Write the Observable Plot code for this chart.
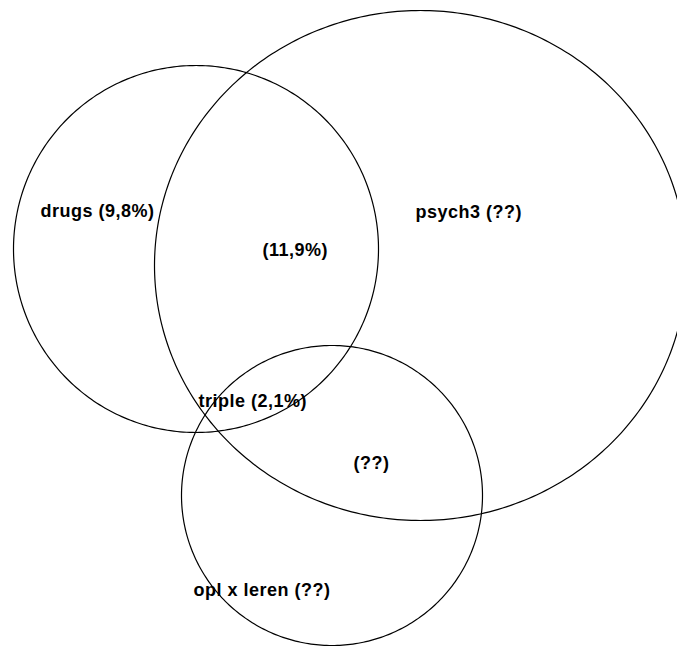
<!DOCTYPE html>
<html>
<head>
<meta charset="utf-8">
<script src="https://cdn.jsdelivr.net/npm/d3@7"></script>
<script src="https://cdn.jsdelivr.net/npm/@observablehq/plot@0.6"></script>
<style>
  html, body { margin: 0; padding: 0; background: #fff; }
  #chart svg { display: block; overflow: hidden; }
  #chart text { letter-spacing: 0.5px; }
</style>
</head>
<body>
<div id="chart"></div>
<script>
// Sets (ellipse outlines, in picture units)
const setNames = ["drugs", "psych3", "opl x leren"];
const centerX = [195.5, 420, 331.5];
const centerY = [248.5, 265, 495];
const radiusX = [182.5, 266, 150.5];
const radiusY = [183.5, 255, 150];

// Region labels
const labelText = ["drugs (9,8%)", "(11,9%)", "psych3 (??)", "triple (2,1%)", "(??)", "opl x leren (??)"];
const labelX = [40, 262, 415, 198, 353, 193];
const labelY = [211, 250, 212, 401, 463, 590];

const W = 677, H = 646;

const outline = setNames.flatMap((name, i) =>
  d3.range(0, 360, 1).map(a => {
    const t = a * Math.PI / 180;
    return {set: name, x: centerX[i] + radiusX[i] * Math.cos(t), y: centerY[i] + radiusY[i] * Math.sin(t)};
  })
);
const labels = labelText.map((t, i) => ({text: t, x: labelX[i], y: labelY[i]}));

const chart = Plot.plot({
  width: W,
  height: H,
  margin: 0,
  x: {domain: [0, W], range: [0, W], axis: null},
  y: {domain: [0, H], range: [0, H], axis: null},
  style: {background: "#fff"},
  marks: [
    Plot.line(outline, {x: "x", y: "y", z: "set", curve: "linear-closed", stroke: "#000", strokeWidth: 1.2}),
    Plot.text(labels, {x: "x", y: "y", text: "text", textAnchor: "start", fontSize: 18, fontWeight: "bold",
      fontFamily: "Liberation Sans, Arial, sans-serif", fill: "#000", lineAnchor: "middle"})
  ]
});
document.getElementById("chart").appendChild(chart);
</script>
</body>
</html>
